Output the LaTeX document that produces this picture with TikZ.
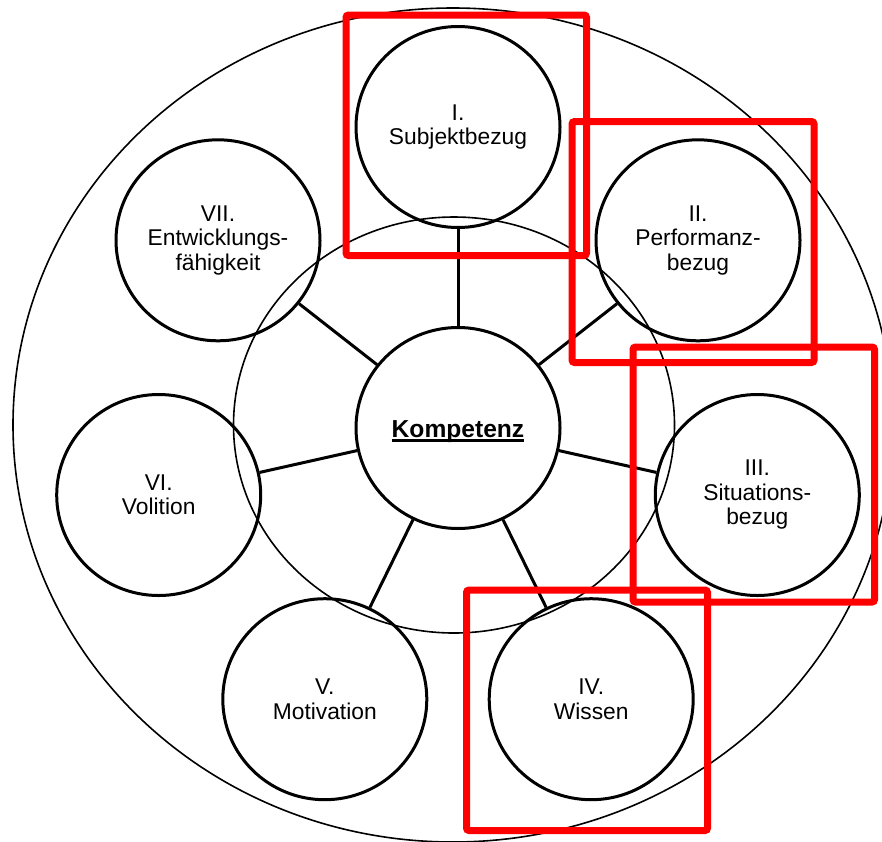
\documentclass[tikz,border=0pt]{standalone}
\usepackage{fontspec}
\setmainfont{Liberation Sans}
\usetikzlibrary{shapes.geometric}
\newsavebox\kompbox
\newcommand{\kompul}[1]{\sbox\kompbox{#1}\rlap{\rule[-4.6pt]{\wd\kompbox}{2.2pt}}\usebox\kompbox}
\tikzset{
  sat/.style={ellipse, draw=black, line width=3pt, minimum width=204pt, minimum height=201pt,
              inner sep=0pt, align=center, font=\fontsize{22.8}{24.5}\selectfont},
  link/.style={line width=3pt, draw=black},
  ring/.style={line width=1.6pt, draw=black},
  redbox/.style={draw=red, line width=7pt, rounded corners=2.5pt},
  klabel/.style={anchor=base, inner sep=0pt, font=\fontsize{24.6}{28}\selectfont\bfseries}
}
\begin{document}
\begin{tikzpicture}[x=1pt,y=1pt]
\useasboundingbox (0,0) rectangle (882,-841);
% rings
\draw[ring] (453,-425) ellipse [x radius=440, y radius=417];
\draw[ring] (454,-425) ellipse [x radius=220.5, y radius=208];
% centre
\node[sat] (K) at (458,-428) {};
\node[klabel] (Ktext) at (458,-437) {\kompul{Kompetenz}};
% satellites
\node[sat] (s1) at (458,-127)   {I.\\Subjektbezug};
\node[sat] (s2) at (698,-240.3) {II.\\Performanz-\\bezug};
\node[sat] (s3) at (757.3,-495) {III.\\Situations-\\bezug};
\node[sat] (s4) at (591.2,-699.2) {IV.\\Wissen};
\node[sat] (s5) at (324.8,-699.2) {V.\\Motivation};
\node[sat] (s6) at (158.7,-495) {VI.\\Volition};
\node[sat] (s7) at (218,-240.3) {VII.\\Entwicklungs-\\fähigkeit};
% connectors
\foreach \s in {s1,s2,s3,s4,s5,s6,s7}
  \draw[link] (K) -- (\s);
% red frames
\draw[redbox] (346,-15) rectangle (586.5,-255.5);
\draw[redbox] (572,-121.5) rectangle (814,-362.5);
\draw[redbox] (633,-347) rectangle (874.5,-602);
\draw[redbox] (466.5,-590) rectangle (707.5,-830.5);
\end{tikzpicture}
\end{document}
